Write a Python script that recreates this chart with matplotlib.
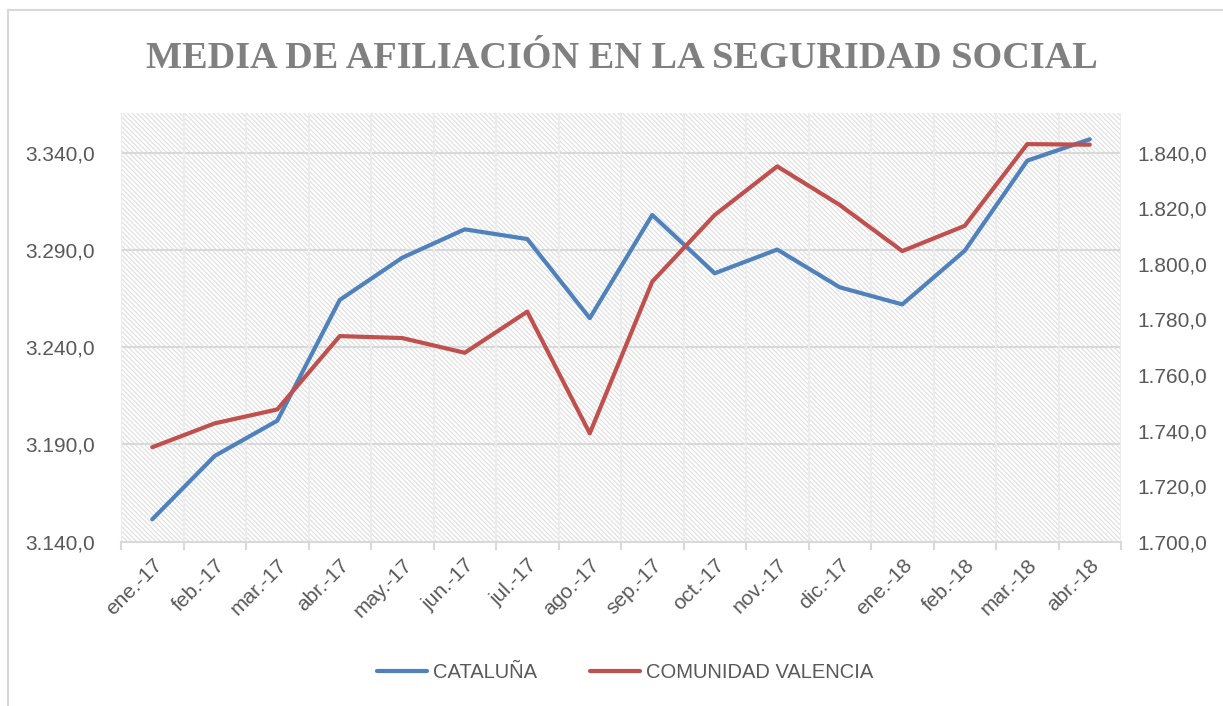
import matplotlib
matplotlib.use("Agg")
import matplotlib.pyplot as plt
from matplotlib.patches import Rectangle
from matplotlib.lines import Line2D
from matplotlib.ticker import FuncFormatter

# Data (thousands of affiliates)
months = ['ene.-17', 'feb.-17', 'mar.-17', 'abr.-17', 'may.-17', 'jun.-17',
          'jul.-17', 'ago.-17', 'sep.-17', 'oct.-17', 'nov.-17', 'dic.-17',
          'ene.-18', 'feb.-18', 'mar.-18', 'abr.-18']
cataluna = [3151.5, 3184.1, 3202.2, 3264.3, 3286.0, 3300.6, 3295.6, 3254.9,
            3308.0, 3278.0, 3290.2, 3270.8, 3262.0, 3289.6, 3335.9, 3346.9]
valencia = [1734.0, 1742.6, 1747.6, 1774.0, 1773.3, 1768.0, 1782.8, 1739.0,
            1793.6, 1817.6, 1835.1, 1821.2, 1804.6, 1813.7, 1843.1, 1842.9]

left_ticks = [3140, 3190, 3240, 3290, 3340]
right_ticks = [1700, 1720, 1740, 1760, 1780, 1800, 1820, 1840]

BLUE = '#4f81bd'
RED = '#c0504d'
TXT = '#595959'
GRID = '#d9d9d9'

plt.rcParams['font.family'] = ['Liberation Sans', 'DejaVu Sans']
plt.rcParams['hatch.linewidth'] = 0.8


def es_fmt(v, pos=None):
    s = f"{v:,.1f}"
    return s.replace(',', 'X').replace('.', ',').replace('X', '.')


fig = plt.figure(figsize=(12.23, 7.06), dpi=100)
ax = fig.add_axes([121 / 1223, 1 - 541.7 / 706, 1000 / 1223, 428.7 / 706])
ax2 = ax.twinx()

# hatched plot background
bg = Rectangle((0, 0), 1, 1, transform=ax.transAxes, facecolor='white',
               edgecolor='#dedede', linewidth=0, hatch='\\' * 7, zorder=0)
ax.add_patch(bg)
ax.set_facecolor('none')

x = list(range(len(months)))
ax.set_xlim(-0.5, len(months) - 0.5)
ax.set_ylim(3140, 3360.4)
ax2.set_ylim(1700, 1854.3)

# grid lines
for yv in left_ticks[1:]:
    ax.axhline(yv, color=GRID, lw=1.5, zorder=1)
for b in range(len(months) + 1):
    ax.axvline(b - 0.5, color='#ececec', lw=1.5, zorder=1)

ax.plot(x, cataluna, color=BLUE, lw=3, solid_capstyle='round', zorder=3)
ax2.plot(x, valencia, color=RED, lw=3, solid_capstyle='round', zorder=3)

for a in (ax, ax2):
    for s in a.spines.values():
        s.set_visible(False)
ax.spines['bottom'].set_visible(True)
ax.spines['bottom'].set_color(GRID)
ax.spines['bottom'].set_linewidth(1.5)

ax.set_xticks(x)
ax.set_xticklabels(months, rotation=45, ha='right', rotation_mode='anchor',
                   fontsize=15, color=TXT)
ax.set_xticks([b - 0.5 for b in range(len(months) + 1)], minor=True)
ax.tick_params(axis='x', which='major', length=0, pad=10)
ax.tick_params(axis='x', which='minor', length=6, width=1.5, color=GRID)

ax.set_yticks(left_ticks)
ax.yaxis.set_major_formatter(FuncFormatter(es_fmt))
ax.tick_params(axis='y', length=0, pad=19, labelsize=15, labelcolor=TXT)

ax2.set_yticks(right_ticks)
ax2.yaxis.set_major_formatter(FuncFormatter(es_fmt))
ax2.tick_params(axis='y', length=0, pad=12, labelsize=15, labelcolor=TXT)

fig.text(0.5086, 1 - 58 / 706, 'MEDIA DE AFILIACIÓN EN LA SEGURIDAD SOCIAL',
         ha='center', va='center', fontsize=27.5, fontweight='bold',
         color='#808080', family=['Liberation Serif', 'DejaVu Serif'])

handles = [Line2D([], [], color=BLUE, lw=3, solid_capstyle='round'),
           Line2D([], [], color=RED, lw=3, solid_capstyle='round')]
leg = fig.legend(handles, ['CATALUÑA', 'COMUNIDAD VALENCIA'], loc='center',
                 bbox_to_anchor=(0.511, 1 - 673 / 706), ncol=2, frameon=False,
                 fontsize=14.5, handlelength=2.5, handletextpad=0.3,
                 columnspacing=2.6)
for t in leg.get_texts():
    t.set_color(TXT)

# outer chart border (left and top visible)
fig.add_artist(Line2D([8 / 1223, 8 / 1223], [0, 1 - 10 / 706],
                      transform=fig.transFigure, color=GRID, lw=1.5))
fig.add_artist(Line2D([8 / 1223, 1], [1 - 10 / 706, 1 - 10 / 706],
                      transform=fig.transFigure, color=GRID, lw=1.5))

fig.savefig('out.png', dpi=100)
